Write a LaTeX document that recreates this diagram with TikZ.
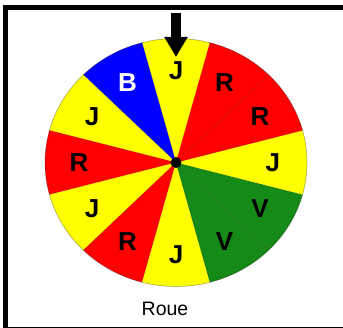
\documentclass[tikz,border=0pt]{standalone}
\usepackage{fontspec}
\setmainfont{Liberation Sans}
\usetikzlibrary{arrows.meta}
\definecolor{wyellow}{RGB}{255,255,0}
\definecolor{wred}{RGB}{255,0,0}
\definecolor{wblue}{RGB}{0,0,255}
\definecolor{wgreen}{RGB}{22,138,22}

\begin{document}
\begin{tikzpicture}[x=1pt,y=1pt,
        lbl/.style={font=\fontsize{26}{26}\selectfont\bfseries,inner sep=0pt},
        sep/.style={draw=black,draw opacity=0.18,line width=0.6pt},
        pointer/.style={-{Triangle[width=22pt,length=20pt]},line width=10.6pt}]
    \useasboundingbox (0,0) rectangle (343,328);
    \clip (0,0) rectangle (343,328);
    \draw[line width=5pt] (5,320.5) rectangle (345.5,-1.5);
    \begin{scope}[shift={(176,165.5)},x=131pt,y=124pt]
        \foreach \a/\c/\t/\tc/\n in {75/wyellow/J/black/a,105/wblue/B/white/b,135/wyellow/J/black/c,
                165/wred/R/black/d,195/wyellow/J/black/e,225/wred/R/black/f,255/wyellow/J/black/g,
                285/wgreen/V/black/h,315/wgreen/V/black/i,345/wyellow/J/black/j,15/wred/R/black/k,45/wred/R/black/l}
        {
            \fill[\c] (0,0) -- (\a:1) arc[start angle=\a, end angle=\a+30, radius=1] -- cycle;
            \draw[sep] (0,0) -- (\a:1);
            \node[lbl,text=\tc] (sec\n) at (\a+15:0.74) {\t};
        }
        \draw[black,draw opacity=0.3,line width=0.7pt] (0,0) ellipse[x radius=1, y radius=1];
        \fill[black] (0,0) circle[radius=5.5pt];
    \end{scope}
    \coordinate (top) at (176,315);
    \coordinate (tip) at (176,271);
    \draw[pointer] (top) -- (tip);
    \node[font=\fontsize{19.5}{20}\selectfont,anchor=base] (roue) at (165,12) {Roue};
\end{tikzpicture}
\end{document}
